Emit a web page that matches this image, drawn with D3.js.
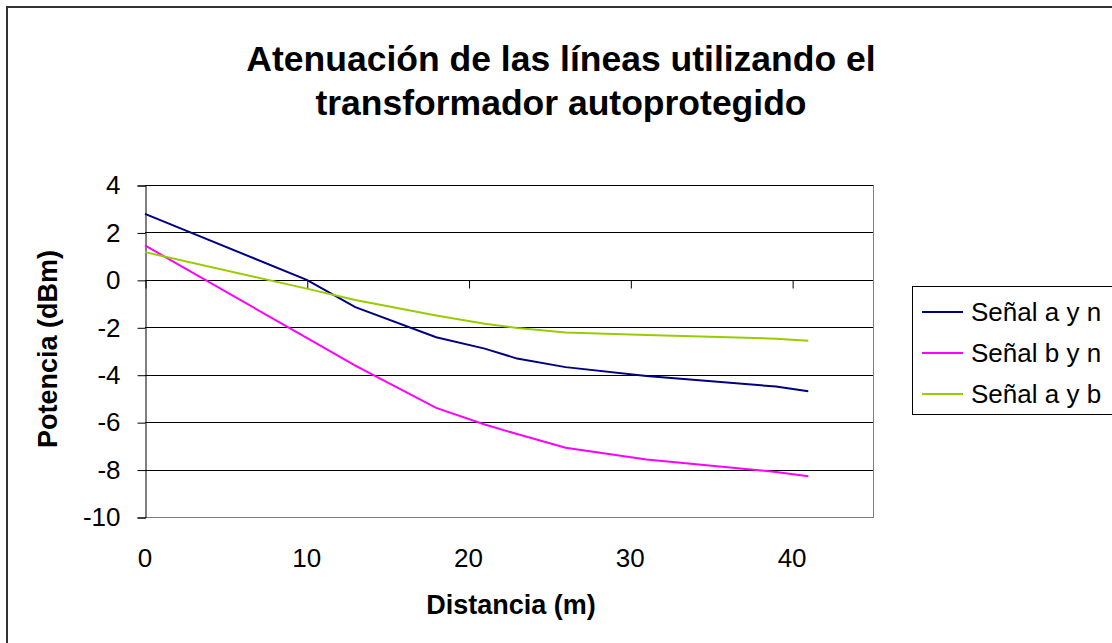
<!DOCTYPE html>
<html><head><meta charset="utf-8">
<script src="https://cdn.jsdelivr.net/npm/d3@7"></script>
<style>body{margin:0;background:#fff}svg{display:block}text{font-family:"Liberation Sans",Arial,sans-serif}</style>
</head><body><svg id="c" width="1112" height="643"></svg>
<script>
const titleLines = ["Atenuación de las líneas utilizando el", "transformador autoprotegido"];
const xLabel = "Distancia (m)";
const yLabel = "Potencia (dBm)";
const distances = [0, 10, 13, 18, 21, 23, 26, 31, 39, 41];
const senalAyN = [2.78, 0.0, -1.15, -2.42, -2.9, -3.32, -3.68, -4.05, -4.5, -4.7];
const senalByN = [1.45, -2.45, -3.62, -5.4, -6.1, -6.5, -7.08, -7.58, -8.1, -8.28];
const senalAyB = [1.17, -0.37, -0.85, -1.5, -1.85, -2.03, -2.22, -2.33, -2.48, -2.57];
const seriesNames = ["Señal a y n", "Señal b y n", "Señal a y b"];
const seriesColors = ["#000080", "#FF00FF", "#99CC00"];
const xTicks = [0, 10, 20, 30, 40];
const yTicks = [4, 2, 0, -2, -4, -6, -8, -10];

const series = [senalAyN, senalByN, senalAyB];
const svg = d3.select("#c");
const fmt = d => String(d); // hyphen-minus like the original

// outer chart border
svg.append("rect").attr("x", 7).attr("y", 7).attr("width", 1140).attr("height", 680)
  .attr("fill", "#fff").attr("stroke", "#333").attr("stroke-width", 2);

const L = 145, R = 873, T = 185, B = 517;
const x = d3.scaleLinear().domain([0, 45]).range([L, R]);
const y = d3.scaleLinear().domain([-10, 4]).range([B, T]);

// gridlines
svg.append("g").selectAll("line").data(yTicks).join("line")
  .attr("x1", L).attr("x2", R)
  .attr("y1", d => Math.round(y(d)) + 0.5).attr("y2", d => Math.round(y(d)) + 0.5)
  .attr("stroke", d => d === -10 ? "#808080" : "#000").attr("stroke-width", 1);
// right border
svg.append("line").attr("x1", R + 0.5).attr("x2", R + 0.5).attr("y1", T).attr("y2", B + 1)
  .attr("stroke", "#808080");

// y axis
const yAxis = d3.axisLeft(y).tickValues(yTicks).tickSize(8).tickPadding(17).tickFormat(fmt);
const gy = svg.append("g").attr("transform", `translate(${L + 0.5},0.5)`).call(yAxis);
gy.select(".domain").attr("stroke", "#000");
gy.selectAll(".tick line").attr("stroke", "#000");
gy.selectAll("text").attr("font-size", 26).attr("fill", "#000").attr("font-family", "Liberation Sans, Arial");

// x axis at y=0 with ticks downward, labels below plot
const xAxis = d3.axisBottom(x).tickValues(xTicks).tickSize(8).tickFormat("");
const gx = svg.append("g").attr("transform", `translate(0.5,${Math.round(y(0)) + 0.5})`).call(xAxis);
gx.select(".domain").remove();
gx.selectAll(".tick line").attr("stroke", "#000");
svg.append("g").selectAll("text").data(xTicks).join("text")
  .attr("x", d => x(d)).attr("y", 567).attr("text-anchor", "middle")
  .attr("font-size", 26).attr("fill", "#000").text(fmt);

// lines
const line = d3.line().x((d, i) => x(distances[i])).y(d => y(d));
series.forEach((s, i) => {
  svg.append("path").datum(s).attr("d", line).attr("fill", "none")
    .attr("stroke", seriesColors[i]).attr("stroke-width", 2);
});

// titles
svg.append("g").selectAll("text").data(titleLines).join("text")
  .attr("x", 561).attr("y", (d, i) => 71 + i * 44).attr("text-anchor", "middle")
  .attr("font-size", 35.5).attr("font-weight", "bold").attr("fill", "#000").text(d => d);
svg.append("text").attr("x", 511).attr("y", 614).attr("text-anchor", "middle")
  .attr("font-size", 27).attr("font-weight", "bold").text(xLabel);
svg.append("text").attr("transform", "translate(57,349) rotate(-90)").attr("text-anchor", "middle")
  .attr("font-size", 27).attr("font-weight", "bold").text(yLabel);

// legend
const lg = svg.append("g");
lg.append("rect").attr("x", 912.5).attr("y", 286.5).attr("width", 220).attr("height", 128)
  .attr("fill", "#fff").attr("stroke", "#000").attr("stroke-width", 1);
seriesNames.forEach((n, i) => {
  const yy = 312 + i * 41;
  lg.append("line").attr("x1", 922).attr("x2", 963).attr("y1", yy).attr("y2", yy)
    .attr("stroke", seriesColors[i]).attr("stroke-width", 2);
  lg.append("text").attr("x", 971).attr("y", yy + 9).attr("font-size", 26).attr("fill", "#000").text(n);
});
</script></body></html>
